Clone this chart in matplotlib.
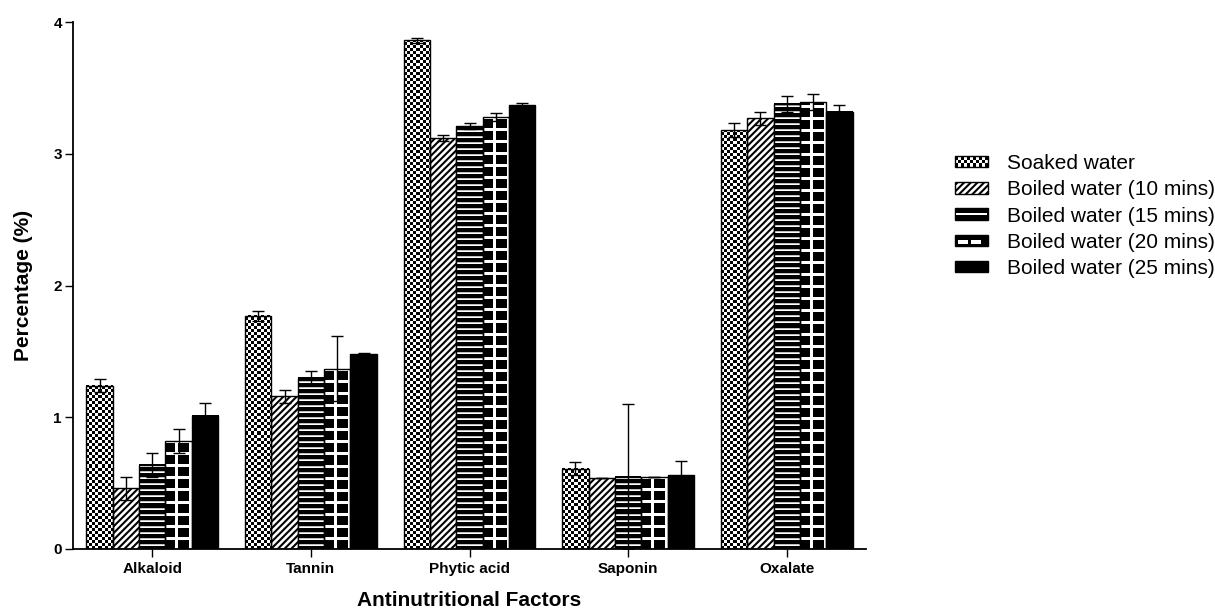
import numpy as np
import matplotlib
matplotlib.use('Agg')
matplotlib.rcParams['font.family'] = ['Liberation Sans', 'DejaVu Sans']
matplotlib.rcParams['hatch.linewidth'] = 1.5
import matplotlib.pyplot as plt
from matplotlib.patches import Rectangle, Patch
from matplotlib.legend_handler import HandlerBase

factors = ['Alkaloid', 'Tannin', 'Phytic acid', 'Saponin', 'Oxalate']
treatments = ['Soaked water', 'Boiled water (10 mins)', 'Boiled water (15 mins)',
              'Boiled water (20 mins)', 'Boiled water (25 mins)']

soaked = [1.24, 1.77, 3.86, 0.61, 3.18]
soaked_err = [0.05, 0.04, 0.02, 0.05, 0.05]
boiled_10 = [0.46, 1.16, 3.12, 0.54, 3.27]
boiled_10_err = [0.09, 0.05, 0.02, 0.0, 0.05]
boiled_15 = [0.64, 1.30, 3.21, 0.55, 3.38]
boiled_15_err = [0.09, 0.05, 0.02, 0.55, 0.06]
boiled_20 = [0.82, 1.37, 3.28, 0.55, 3.39]
boiled_20_err = [0.09, 0.25, 0.03, 0.0, 0.06]
boiled_25 = [1.01, 1.48, 3.37, 0.56, 3.32]
boiled_25_err = [0.10, 0.01, 0.015, 0.11, 0.05]

series = [soaked, boiled_10, boiled_15, boiled_20, boiled_25]
errors = [soaked_err, boiled_10_err, boiled_15_err, boiled_20_err, boiled_25_err]
patterns = ['checker', 'diag', 'stripes', 'grid', 'solid']

W, H, DPI = 1215, 608, 100
AX_L, AX_R, AX_T, AX_B = 73, 866, 22, 549
YMAX = 4


def texture(kind, w, h):
    # pixel-sized fill patterns (1 = white, 0 = black)
    yy, xx = np.mgrid[0:h, 0:w]
    if kind == 'checker':
        return ((xx // 3 + yy // 3) % 2).astype(float)
    if kind == 'stripes':
        t = np.zeros((h, w))
        t[yy % 6 == 3] = 1.0
        t[yy % 6 == 4] = 0.75
        return t
    if kind == 'grid':
        return ((xx % 13 >= 10) | (yy % 12 >= 9)).astype(float)
    return np.zeros((h, w))


class PatternHandler(HandlerBase):
    def __init__(self, kind):
        super().__init__()
        self.kind = kind

    def create_artists(self, legend, orig_handle, xdescent, ydescent,
                       width, height, fontsize, trans):
        x0, y0 = -xdescent, -ydescent
        k = self.kind
        arts = []
        if k == 'diag':
            arts.append(Rectangle((x0, y0), width, height, facecolor='white',
                                  edgecolor='black', hatch='/////', lw=1))
        else:
            fc = 'white' if k == 'checker' else 'black'
            arts.append(Rectangle((x0, y0), width, height, facecolor=fc,
                                  edgecolor='black', lw=1))
        if k == 'checker':
            nc, nr = 11, 3
            cw, ch = width / nc, height / nr
            for r in range(nr):
                for c in range(nc):
                    if (r + c) % 2 == 0:
                        arts.append(Rectangle((x0 + c * cw, y0 + r * ch), cw, ch,
                                              facecolor='black', lw=0))
        elif k == 'stripes':
            arts.append(Rectangle((x0 + 1, y0 + height * 0.42), width - 2,
                                  height * 0.16, facecolor='white', lw=0))
        elif k == 'grid':
            for sx, sw in [(0.1, 0.3), (0.5, 0.3)]:
                arts.append(Rectangle((x0 + width * sx, y0 + height * 0.15),
                                      width * sw, height * 0.4,
                                      facecolor='white', lw=0))
        for a in arts:
            a.set_transform(trans)
        return arts


fig = plt.figure(figsize=(W / DPI, H / DPI), dpi=DPI)
ax = fig.add_axes([AX_L / W, (H - AX_B) / H, (AX_R - AX_L) / W, (AX_B - AX_T) / H])

x = np.arange(len(factors))
width = 0.166
px_x = (AX_R - AX_L) / len(factors)
px_y = (AX_B - AX_T) / YMAX

for j, (vals, errs, kind) in enumerate(zip(series, errors, patterns)):
    pos = x + (j - 2) * width
    if kind == 'diag':
        ax.bar(pos, vals, width, color='white', edgecolor='black',
               hatch='/////', linewidth=1, zorder=1)
    else:
        for p, v in zip(pos, vals):
            tex = texture(kind, int(round(width * px_x)), max(1, int(round(v * px_y))))
            ax.imshow(tex, extent=(p - width / 2, p + width / 2, 0, v), origin='lower',
                      cmap='gray', vmin=0, vmax=1, interpolation='nearest',
                      aspect='auto', zorder=1)
        ax.bar(pos, vals, width, fill=False, edgecolor='black', linewidth=1, zorder=2)
    ax.errorbar(pos, vals, yerr=errs, fmt='none', ecolor='black', elinewidth=1,
                capsize=4.5, capthick=1, zorder=3)

ax.set_xlim(-0.5, len(factors) - 0.5)
ax.set_ylim(0, YMAX)
ax.set_yticks(range(0, YMAX + 1))
ax.set_xticks(x)
ax.set_xticklabels(factors)
for lab in ax.get_xticklabels() + ax.get_yticklabels():
    lab.set_fontweight('bold')
ax.tick_params(axis='x', length=6, width=1, pad=3.5, labelsize=11)
ax.tick_params(axis='y', length=6, width=1, pad=2, labelsize=11)

for side in ['top', 'right']:
    ax.spines[side].set_visible(False)
for side in ['left', 'bottom']:
    ax.spines[side].set_linewidth(1.3)

ax.set_ylabel('Percentage (%)', fontsize=15, fontweight='bold', va='center')
ax.yaxis.set_label_coords((24 - AX_L) / (AX_R - AX_L), 0.5)
ax.set_xlabel('Antinutritional Factors', fontsize=15, fontweight='bold', va='baseline')
ax.xaxis.set_label_coords(0.5, (AX_B - 606) / (AX_B - AX_T))

handles = [Patch(label=t) for t in treatments]
hmap = {h: PatternHandler(k) for h, k in zip(handles, patterns)}
fig.legend(handles=handles, handler_map=hmap, loc='center left',
           bbox_to_anchor=(955 / W, 1 - 216 / H), frameon=False, fontsize=15,
           handlelength=1.58, handleheight=0.48, handletextpad=0.91,
           labelspacing=0.35, borderpad=0, borderaxespad=0)

fig.savefig('out.png', dpi=DPI)
